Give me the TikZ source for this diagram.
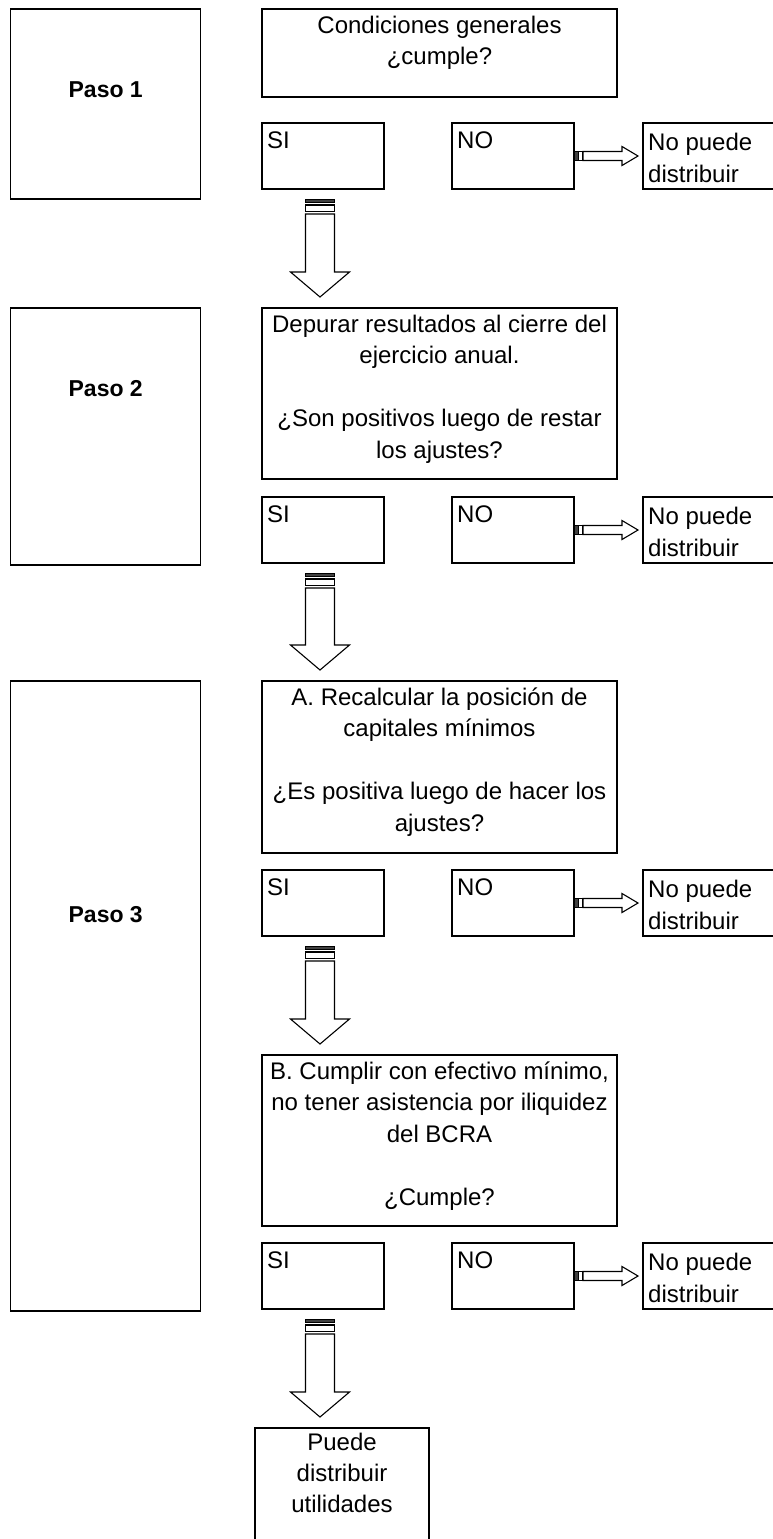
\documentclass[tikz,border=0pt]{standalone}
\usepackage{fontspec}
\setmainfont{Liberation Sans}
\usetikzlibrary{calc}
\tikzset{
  box/.style={draw, line width=1.4pt, inner sep=0pt, outer sep=0pt, anchor=north west},
  txt/.style={font=\fontsize{24}{31.5}\selectfont, inner sep=0pt, align=center, anchor=base},
  ltxt/.style={font=\fontsize{24}{31.5}\selectfont, inner sep=0pt, align=left, anchor=base west},
  ptxt/.style={font=\fontsize{23}{28}\selectfont\bfseries, inner sep=0pt, anchor=base},
  arr/.style={draw, line width=1.1pt, fill=white, line join=miter},
  bar/.style={draw, line width=1pt, fill=black!75},
}
\newcommand\dnarrow[2]{%
  \draw[bar] let \p1=(#1) in (\x1-17.5pt,\y1-10pt) rectangle (\x1+11.5pt,\y1-13.5pt);
  \draw[arr] let \p1=(#1) in (\x1-17.5pt,\y1-16pt) rectangle (\x1+11.5pt,\y1-22.5pt);
  \draw[arr] let \p1=(#1), \p2=(#2) in
    (\x1-17.5pt,\y1-25pt) -- (\x1-17.5pt,\y2+36pt) -- (\x1-32.5pt,\y2+36pt)
    -- (\x1-3pt,\y2+11pt) -- (\x1+26.5pt,\y2+36pt) -- (\x1+11.5pt,\y2+36pt)
    -- (\x1+11.5pt,\y1-25pt) -- cycle;
}
\newcommand\rtarrow[2]{%
  \draw[bar] let \p1=(#1) in (\x1,\y1-4.5pt) rectangle (\x1+4.5pt,\y1+4.5pt);
  \draw[arr] let \p1=(#1) in (\x1+4.5pt,\y1-4.5pt) rectangle (\x1+9pt,\y1+4.5pt);
  \draw[arr] let \p1=(#1), \p2=(#2) in
    (\x1+9pt,\y1+4.5pt) -- (\x2-21pt,\y1+4.5pt) -- (\x2-21pt,\y1+9.5pt)
    -- (\x2-5pt,\y1) -- (\x2-21pt,\y1-9.5pt) -- (\x2-21pt,\y1-4.5pt)
    -- (\x1+9pt,\y1-4.5pt) -- cycle;
}
\begin{document}
\begin{tikzpicture}[x=1pt,y=-1pt]
\useasboundingbox (0,0) rectangle (772,1539);
\fill[white] (0,0) rectangle (772,1539);

% Paso boxes
\node[box, minimum width=190pt, minimum height=190pt] (p1) at (10.7,9) {};
\node[box, minimum width=190pt, minimum height=257pt] (p2) at (10.7,308) {};
\node[box, minimum width=190pt, minimum height=630pt] (p3) at (10.7,681) {};
\node[ptxt] (p1t) at (105.7,97) {Paso 1};
\node[ptxt] (p2t) at (105.7,396) {Paso 2};
\node[ptxt] (p3t) at (105.7,922) {Paso 3};

% main question boxes (base anchor = baseline of the last line)
\node[box, minimum width=355pt, minimum height=88pt] (c1) at (262,9) {};
\node[txt] (c1t) at (439.5,64.5) {Condiciones generales\\¿cumple?};
\node[box, minimum width=355pt, minimum height=171pt] (c2) at (262,308) {};
\node[txt] (c2t) at (439.5,458) {Depurar resultados al cierre del\\ejercicio anual.\\[31.5pt]¿Son positivos luego de restar\\los ajustes?};
\node[box, minimum width=355pt, minimum height=172pt] (c3) at (262,681) {};
\node[txt] (c3t) at (439.5,831) {A. Recalcular la posición de\\capitales mínimos\\[31.5pt]¿Es positiva luego de hacer los\\ajustes?};
\node[box, minimum width=355pt, minimum height=171pt] (c4) at (262,1055) {};
\node[txt] (c4t) at (439.5,1205) {B. Cumplir con efectivo mínimo,\\no tener asistencia por iliquidez\\del BCRA\\[31.5pt]¿Cumple?};
\node[box, minimum width=174pt, minimum height=117pt] (fin) at (255,1428) {};
\node[txt, font=\fontsize{24}{31}\selectfont] (fint) at (342,1512) {Puede\\distribuir\\utilidades};

% SI / NO / No puede rows
\foreach \r/\t in {1/123, 2/497, 3/870, 4/1243} {
  \node[box, minimum width=122pt, minimum height=66pt] (si\r) at (262,\t) {};
  \node[box, minimum width=122pt, minimum height=66pt] (no\r) at (452,\t) {};
  \node[box, minimum width=133pt, minimum height=66pt] (np\r) at (643,\t) {};
  \node[ltxt] (si\r t) at (267,\t+25) {SI};
  \node[ltxt] (no\r t) at (457,\t+25) {NO};
  \node[ltxt] (np\r t) at (648,\t+59) {No puede\\distribuir};
  \rtarrow{no\r.east}{np\r.west}
}

% down arrows
\dnarrow{si1.south}{c2.north}
\dnarrow{si2.south}{c3.north}
\dnarrow{si3.south}{c4.north}
\dnarrow{si4.south}{fin.north}
\end{tikzpicture}
\end{document}
